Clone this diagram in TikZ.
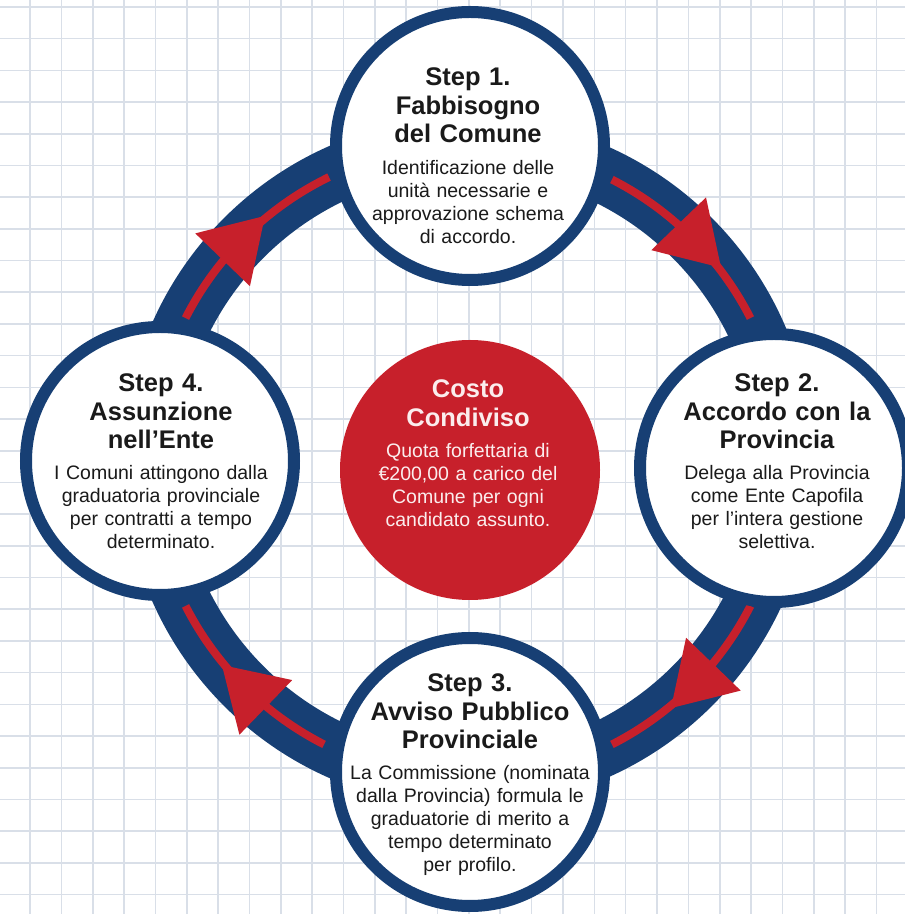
\documentclass[tikz,border=0pt]{standalone}
\usepackage{fontspec}
\setmainfont{Liberation Sans}
\definecolor{navy}{HTML}{173F74}
\definecolor{cred}{HTML}{C7202B}
\definecolor{gridc}{HTML}{D9DFE8}
\definecolor{ink}{HTML}{1A1A1A}
\definecolor{pinkw}{HTML}{FBEDED}
\begin{document}
\begin{tikzpicture}[x=1pt,y=1pt,
  ttl/.style={font=\fontsize{25.5}{28.5}\selectfont\bfseries, text width=280pt, align=center, anchor=base, inner sep=0pt, text=ink},
  bdy/.style={font=\fontsize{19.5}{23}\selectfont, text width=280pt, align=center, anchor=base, inner sep=0pt, text=ink},
  stepc/.style={circle, draw=navy, line width=12pt, fill=white, minimum size=268pt, inner sep=0pt},
  gridline/.style={gridc, line width=1.6pt},
  ringband/.style={navy, line width=56pt},
  redline/.style={cred, line width=8pt},
  arrowtri/.style={fill=cred}]
\useasboundingbox (0,0) rectangle (905,914);
\clip (0,0) rectangle (905,914);
\fill[white] (0,0) rectangle (905,914);
% grid
\foreach \k in {0,...,29} \draw[gridline] ({-1.35+31.35*\k},0) -- ++(0,914);
\foreach \k in {0,...,29} \draw[gridline] (0,{907-31.7*\k}) -- ++(905,0);
% ring
\coordinate (C) at (468,452);
\draw[ringband] (C) circle[radius=317];
% red arcs
\draw[redline] ([shift={(153:317)}]C) arc[start angle=153, end angle=116, radius=317];
\draw[redline] ([shift={(63:317)}]C) arc[start angle=63, end angle=27, radius=317];
\draw[redline] ([shift={(-27:317)}]C) arc[start angle=-27, end angle=-63, radius=317];
\draw[redline] ([shift={(-117:317)}]C) arc[start angle=-117, end angle=-153, radius=317];
% arrowheads (clockwise)
\foreach \a in {136,44,-44,-134}{
  \begin{scope}[shift={(C)}, rotate=\a]
    \fill[arrowtri] (317,-36) -- (279,25) -- (355,25) -- cycle;
  \end{scope}}
% step circles
\node[stepc] (s1) at (470,768) {};
\node[stepc] (s2) at (774,446) {};
\node[stepc] (s3) at (470,142) {};
\node[stepc] (s4) at (160,453) {};
% center circle
\node[circle, fill=cred, minimum size=260pt, inner sep=0pt] (cc) at (470,444) {};
% texts
\node[ttl] (s1t) at (468,828) {Step 1.\\Fabbisogno\\del Comune};
\node[bdy] (s1b) at (468,739) {Identificazione delle\\unità necessarie e\\approvazione schema\\di accordo.};
\node[ttl] (s2t) at (777,522) {Step 2.\\Accordo con la\\Provincia};
\node[bdy] (s2b) at (777,434) {Delega alla Provincia\\come Ente Capofila\\per l’intera gestione\\selettiva.};
\node[ttl] (s4t) at (161,522) {Step 4.\\Assunzione\\nell’Ente};
\node[bdy] (s4b) at (161,434) {I Comuni attingono dalla\\graduatoria provinciale\\per contratti a tempo\\determinato.};
\node[ttl] (s3t) at (470,222) {Step 3.\\Avviso Pubblico\\Provinciale};
\node[bdy] (s3b) at (470,134) {La Commissione (nominata\\dalla Provincia) formula le\\graduatorie di merito a\\tempo determinato\\per profilo.};
\node[ttl, text=pinkw] (cct) at (468,516) {Costo\\Condiviso};
\node[bdy, text=pinkw] (ccb) at (468,456) {Quota forfettaria di\\€200,00 a carico del\\Comune per ogni\\candidato assunto.};
\end{tikzpicture}
\end{document}
